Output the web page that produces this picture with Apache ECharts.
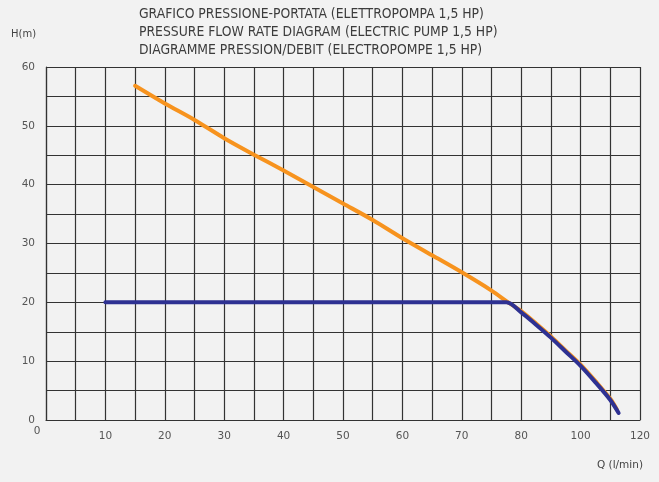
<!DOCTYPE html>
<html>
<head>
<meta charset="utf-8">
<title>Grafico pressione-portata</title>
<script src="https://cdn.jsdelivr.net/npm/echarts@6/dist/echarts.min.js"></script>
<style>
  html, body { margin: 0; padding: 0; background: #f2f2f2; }
  #chart { width: 659px; height: 482px; }
</style>
</head>
<body>
<div id="chart"></div>
<script>
// x runs in grid steps of the drawing (one column = 5); labels past 80 jump to 100, 120
var qLabels = ['0', '10', '20', '30', '40', '50', '60', '70', '80', '100', '120']
var hLabels = ['0', '10', '20', '30', '40', '50', '60']

// pump curve (orange)
var pumpCurve = [
  [15, 56.8], [20, 53.8], [25, 51.0], [30, 47.9], [35, 45.1], [40, 42.4],
  [45, 39.6], [50, 36.8], [55, 34.0], [60, 30.9], [65, 28.0], [70, 25.1],
  [75, 22.0], [77.8, 20.0], [80, 18.5], [82.5, 16.4], [85, 14.2], [87.5, 11.8],
  [90, 9.4], [92.5, 6.6], [95, 3.6], [96.1, 1.8]
]
// working curve with pressure regulator (blue)
var regulatedCurve = [
  [10, 20], [77.5, 20], [80, 18.3], [82.5, 16.2], [85, 14.0], [87.5, 11.6],
  [90, 9.2], [92.5, 6.4], [95, 3.4], [96.4, 1.2]
]

var gridColor = '#333'
var labelFont = 'DejaVu Sans'

var chart = echarts.init(document.getElementById('chart'))
chart.setOption({
  backgroundColor: '#f2f2f2',
  animation: false,
  title: [{
    text: 'GRAFICO PRESSIONE-PORTATA (ELETTROPOMPA 1,5 HP)\nPRESSURE FLOW RATE DIAGRAM (ELECTRIC PUMP 1,5 HP)\nDIAGRAMME PRESSION/DEBIT (ELECTROPOMPE 1,5 HP)',
    left: 134,
    top: 1,
    textStyle: {
      fontFamily: "'Liberation Sans Narrow', 'DejaVu Sans Condensed', sans-serif",
      fontSize: 13.8,
      fontWeight: 'normal',
      color: '#3c3c3c',
      lineHeight: 17.7
    }
  }, {
    text: 'H(m)',
    left: 6,
    top: 24,
    textStyle: { fontFamily: labelFont, fontSize: 10, fontWeight: 'normal', color: '#444' }
  }, {
    text: 'Q (l/min)',
    right: 11,
    top: 455,
    textStyle: { fontFamily: labelFont, fontSize: 10.5, fontWeight: 'normal', color: '#444' }
  }],
  grid: {
    left: 46,
    right: 19,
    top: 67,
    bottom: 62,
    containLabel: false
  },
  xAxis: {
    type: 'value',
    min: 0,
    max: 100,
    interval: 10,
    axisLine: { show: true, lineStyle: { color: gridColor, width: 1.2 } },
    axisTick: { show: false },
    splitLine: { show: true, lineStyle: { color: gridColor, width: 1.2 } },
    minorTick: { show: false, splitNumber: 2 },
    minorSplitLine: { show: true, lineStyle: { color: gridColor, width: 1.2 } },
    axisLabel: {
      margin: 6,
      formatter: function (v) {
        var t = qLabels[Math.round(v / 10)]
        return v === 0 ? '{z|' + t + '}' : '{n|' + t + '}'
      },
      rich: {
        n: { fontFamily: labelFont, fontSize: 10.5, color: '#555', padding: [5, 0, 0, 0] },
        z: { fontFamily: labelFont, fontSize: 10.5, color: '#555', padding: [0, 18, 0, 0] }
      }
    }
  },
  yAxis: {
    type: 'value',
    min: 0,
    max: 60,
    interval: 10,
    axisLine: { show: true, lineStyle: { color: gridColor, width: 1.2 } },
    axisTick: { show: false },
    splitLine: { show: true, lineStyle: { color: gridColor, width: 1.2 } },
    minorTick: { show: false, splitNumber: 2 },
    minorSplitLine: { show: true, lineStyle: { color: gridColor, width: 1.2 } },
    axisLabel: {
      margin: 11,
      fontFamily: labelFont,
      fontSize: 10.5,
      color: '#555',
      formatter: function (v) {
        return hLabels[Math.round(v / 10)]
      }
    }
  },
  series: [{
    name: 'pump',
    type: 'line',
    smooth: 0.3,
    symbol: 'none',
    data: pumpCurve,
    lineStyle: { color: '#f7931e', width: 4, cap: 'round' }
  }, {
    name: 'regulated',
    type: 'line',
    smooth: 0.3,
    symbol: 'none',
    data: regulatedCurve,
    lineStyle: { color: '#2e3192', width: 4, cap: 'round' }
  }]
})
</script>
</body>
</html>
